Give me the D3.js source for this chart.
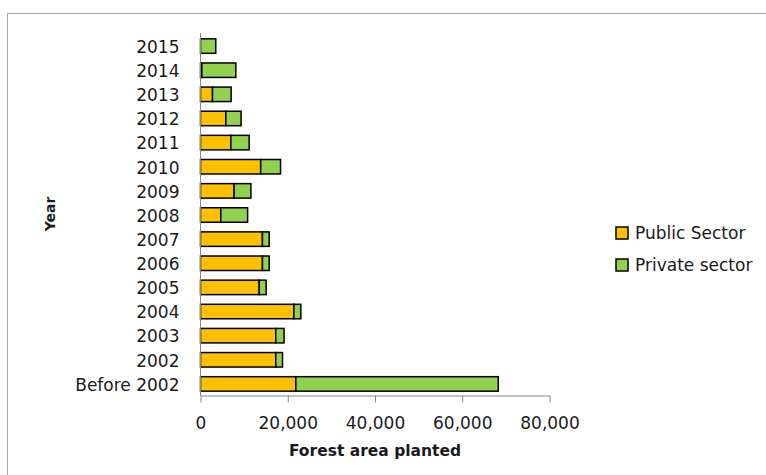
<!DOCTYPE html>
<html>
<head>
<meta charset="utf-8">
<script src="https://cdn.jsdelivr.net/npm/d3@7"></script>
<style>
  html, body { margin: 0; padding: 0; background: #fff; }
  svg { display: block; }
  text { font-family: "DejaVu Sans", sans-serif; fill: #1a1a1a; }
</style>
</head>
<body>
<svg id="chart" width="766" height="475"></svg>
<script>
// categories top to bottom, as in the picture
const years = ['2015', '2014', '2013', '2012', '2011', '2010', '2009', '2008',
               '2007', '2006', '2005', '2004', '2003', '2002', 'Before 2002'];
const publicSector  = [0, 300, 2750, 5800, 6950, 13800, 7700, 4650,
                       14200, 14200, 13450, 21400, 17250, 17250, 21850];
const privateSector = [3500, 7800, 4270, 3500, 4200, 4550, 3850, 6150,
                       1550, 1550, 1600, 1600, 1900, 1550, 46400];
const xTicks = [0, 20000, 40000, 60000, 80000];
const seriesNames = ['Public Sector', 'Private sector'];
const seriesColors = ['#FFC000', '#92D050'];

const svg = d3.select('#chart');

// outer chart frame (runs past the right and bottom edges)
svg.append('rect')
    .attr('x', 7.5).attr('y', 13.5)
    .attr('width', 800).attr('height', 500)
    .attr('fill', 'none').attr('stroke', '#a6a6a6').attr('stroke-width', 1);

const x = d3.scaleLinear().domain([0, 80000]).range([200.5, 549.5]);
const y = d3.scaleBand().domain(years).range([34, 396])
    .paddingInner(0.4).paddingOuter(0.2);

const rows = years.map((yr, i) => ({
    yr, pub: publicSector[i], priv: privateSector[i]
}));

const stack = d3.stack().keys(['pub', 'priv'])(rows);

const barG = svg.append('g');
stack.forEach((layer, li) => {
    barG.append('g').selectAll('rect')
        .data(layer.filter(d => d[1] > d[0]))
        .join('rect')
        .attr('x', d => x(d[0]))
        .attr('y', d => y(d.data.yr))
        .attr('width', d => x(d[1]) - x(d[0]))
        .attr('height', y.bandwidth())
        .attr('fill', seriesColors[li])
        .attr('stroke', '#000')
        .attr('stroke-width', 1.5);
});

// y axis (category) — plain line, labels only
const yAxis = svg.append('g')
    .attr('transform', `translate(${x(0)},0)`)
    .call(d3.axisLeft(y).tickSize(0).tickPadding(21));
yAxis.select('.domain').attr('stroke', '#868686').attr('d', 'M0,33V396');
yAxis.selectAll('text')
    .attr('font-size', 17).attr('font-family', '"DejaVu Sans", sans-serif')
    .attr('fill', '#1a1a1a').attr('dy', '0.4em');

// x axis
const xAxis = svg.append('g')
    .attr('transform', 'translate(0,395.5)')
    .call(d3.axisBottom(x).tickValues(xTicks).tickSize(7).tickSizeOuter(0)
        .tickPadding(14).tickFormat(d3.format(',')));
xAxis.select('.domain').attr('stroke', '#868686');
xAxis.selectAll('.tick line').attr('stroke', '#868686');
xAxis.selectAll('text')
    .attr('font-size', 17).attr('font-family', '"DejaVu Sans", sans-serif')
    .attr('fill', '#1a1a1a');

// axis titles
svg.append('text')
    .attr('x', 375).attr('y', 456)
    .attr('text-anchor', 'middle')
    .attr('font-size', 15.5).attr('font-weight', 'bold')
    .text('Forest area planted');

svg.append('text')
    .attr('transform', 'translate(55,214) rotate(-90)')
    .attr('text-anchor', 'middle')
    .attr('font-family', '"Liberation Sans", Arial, sans-serif')
    .attr('font-size', 14).attr('font-weight', 'bold')
    .text('Year');

// legend
const legend = svg.append('g').attr('transform', 'translate(616,227)');
seriesNames.forEach((name, i) => {
    const g = legend.append('g').attr('transform', `translate(0,${i * 32})`);
    g.append('rect')
        .attr('width', 12).attr('height', 12)
        .attr('fill', seriesColors[i]).attr('stroke', '#000').attr('stroke-width', 1.5);
    g.append('text')
        .attr('x', 19).attr('y', 6).attr('dy', '0.35em')
        .attr('font-size', 17)
        .text(name);
});
</script>
</body>
</html>
